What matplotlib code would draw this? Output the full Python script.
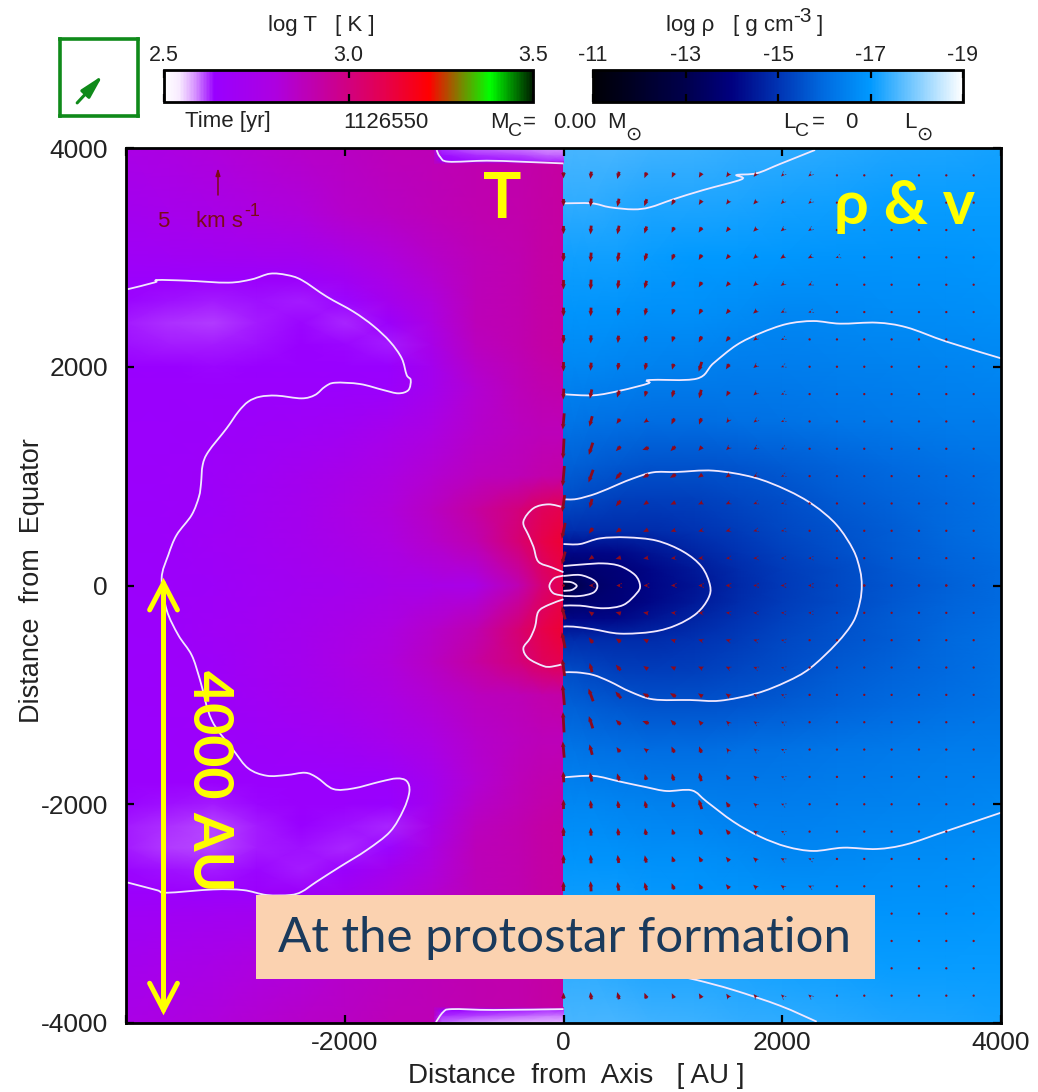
import numpy as np
import matplotlib
matplotlib.use('Agg')
import matplotlib.pyplot as plt
from matplotlib.colors import LinearSegmentedColormap
from matplotlib.patches import Rectangle, PathPatch
from matplotlib.path import Path

plt.rcParams['font.family'] = ['Liberation Sans', 'DejaVu Sans']
plt.rcParams['axes.unicode_minus'] = False

W, H = 1038, 1092

# temperature map, left half (log T), rows top to bottom
t_x = [-4000, -3600, -3200, -2800, -2400, -2000, -1600, -1200, -800, -400, -200, 0]
t_y = [4000, 3400, 3000, 2800, 2600, 2400, 2200, 2000, 1800, 1400, 1000, 700, 400, 0,
       -400, -700, -1000, -1400, -1800, -2000, -2200, -2400, -2600, -2800, -3000, -3400, -4000]
log_t = [
    [2.77, 2.79, 2.81, 2.83, 2.85, 2.86, 2.88, 2.89, 2.90, 2.91, 2.92, 2.93],
    [2.72, 2.74, 2.76, 2.79, 2.81, 2.84, 2.86, 2.88, 2.90, 2.91, 2.92, 2.93],
    [2.68, 2.69, 2.70, 2.71, 2.72, 2.76, 2.81, 2.85, 2.88, 2.90, 2.92, 2.93],
    [2.65, 2.65, 2.65, 2.65, 2.66, 2.70, 2.77, 2.83, 2.88, 2.90, 2.92, 2.93],
    [2.635, 2.63, 2.628, 2.63, 2.625, 2.635, 2.73, 2.81, 2.88, 2.90, 2.92, 2.93],
    [2.628, 2.62, 2.615, 2.625, 2.635, 2.622, 2.66, 2.79, 2.88, 2.90, 2.92, 2.93],
    [2.632, 2.628, 2.625, 2.63, 2.64, 2.635, 2.625, 2.76, 2.87, 2.90, 2.92, 2.93],
    [2.64, 2.64, 2.635, 2.64, 2.64, 2.64, 2.64, 2.73, 2.85, 2.89, 2.91, 2.92],
    [2.645, 2.645, 2.645, 2.645, 2.645, 2.645, 2.65, 2.73, 2.83, 2.88, 2.90, 2.91],
    [2.65, 2.65, 2.66, 2.67, 2.68, 2.70, 2.74, 2.79, 2.84, 2.87, 2.88, 2.88],
    [2.65, 2.66, 2.67, 2.69, 2.72, 2.75, 2.79, 2.83, 2.87, 2.89, 2.91, 2.92],
    [2.65, 2.66, 2.67, 2.70, 2.73, 2.77, 2.81, 2.86, 2.93, 3.01, 3.07, 3.10],
    [2.65, 2.66, 2.68, 2.70, 2.73, 2.76, 2.80, 2.84, 2.90, 3.03, 3.10, 3.14],
    [2.65, 2.66, 2.67, 2.69, 2.71, 2.73, 2.75, 2.76, 2.77, 2.90, 3.02, 3.10],
    [2.65, 2.66, 2.68, 2.70, 2.73, 2.76, 2.80, 2.84, 2.90, 3.03, 3.10, 3.14],
    [2.65, 2.66, 2.67, 2.70, 2.73, 2.77, 2.81, 2.86, 2.93, 3.01, 3.07, 3.10],
    [2.65, 2.66, 2.67, 2.69, 2.72, 2.75, 2.79, 2.83, 2.87, 2.89, 2.91, 2.92],
    [2.65, 2.65, 2.66, 2.67, 2.68, 2.70, 2.74, 2.79, 2.84, 2.87, 2.88, 2.88],
    [2.645, 2.645, 2.645, 2.645, 2.645, 2.645, 2.65, 2.73, 2.83, 2.88, 2.90, 2.91],
    [2.635, 2.63, 2.628, 2.635, 2.645, 2.645, 2.64, 2.73, 2.85, 2.89, 2.91, 2.92],
    [2.628, 2.62, 2.612, 2.628, 2.64, 2.632, 2.622, 2.76, 2.87, 2.90, 2.92, 2.93],
    [2.628, 2.615, 2.612, 2.628, 2.632, 2.622, 2.635, 2.79, 2.88, 2.90, 2.92, 2.93],
    [2.635, 2.63, 2.628, 2.635, 2.625, 2.645, 2.72, 2.81, 2.88, 2.90, 2.92, 2.93],
    [2.65, 2.65, 2.645, 2.65, 2.66, 2.70, 2.77, 2.83, 2.88, 2.90, 2.92, 2.93],
    [2.68, 2.69, 2.70, 2.71, 2.72, 2.76, 2.81, 2.85, 2.88, 2.90, 2.92, 2.93],
    [2.72, 2.74, 2.76, 2.79, 2.81, 2.84, 2.86, 2.88, 2.90, 2.91, 2.92, 2.93],
    [2.77, 2.79, 2.81, 2.83, 2.85, 2.86, 2.88, 2.89, 2.90, 2.91, 2.92, 2.93],
]

# the thin pale bands at top and bottom of the axis
band_x = [-1180, -1110, -800, -400, -150, 0]
band_top_y = [3860, 3885, 3940, 4000]
band_top_t = [
    [2.86, 2.86, 2.88, 2.89, 2.90, 2.91],
    [2.86, 2.64, 2.63, 2.625, 2.62, 2.62],
    [2.84, 2.63, 2.62, 2.61, 2.60, 2.60],
    [2.82, 2.62, 2.60, 2.59, 2.585, 2.585],
]
band_bot_y = [-3860, -3885, -3940, -4000]
band_bot_t = [
    [2.86, 2.86, 2.88, 2.89, 2.90, 2.91],
    [2.86, 2.64, 2.63, 2.625, 2.62, 2.62],
    [2.84, 2.62, 2.61, 2.60, 2.59, 2.59],
    [2.82, 2.60, 2.58, 2.57, 2.57, 2.57],
]

# density map, right half (log rho), equator to top, mirrored below
rho_x = [0, 100, 250, 500, 800, 1200, 1600, 2000, 2500, 3000, 3500, 4000]
rho_y = [0, 150, 300, 500, 800, 1100, 1500, 2000, 2500, 3000, 3500, 4000]
log_rho = [
    [-12.0, -13.0, -13.5, -13.8, -14.1, -14.4, -14.8, -15.1, -15.4, -15.6, -15.8, -16.0],
    [-13.5, -13.6, -13.7, -13.85, -14.15, -14.5, -14.85, -15.15, -15.4, -15.65, -15.85, -16.0],
    [-14.1, -14.1, -14.1, -14.15, -14.4, -14.7, -15.0, -15.25, -15.5, -15.7, -15.9, -16.05],
    [-14.9, -14.9, -14.9, -14.85, -14.85, -15.0, -15.15, -15.35, -15.55, -15.75, -15.95, -16.1],
    [-15.5, -15.45, -15.35, -15.25, -15.2, -15.25, -15.35, -15.5, -15.7, -15.85, -16.0, -16.15],
    [-15.8, -15.8, -15.75, -15.65, -15.55, -15.55, -15.6, -15.7, -15.85, -16.0, -16.1, -16.2],
    [-16.2, -16.2, -16.15, -16.1, -16.05, -16.05, -16.1, -16.15, -16.25, -16.3, -16.35, -16.4],
    [-16.6, -16.6, -16.6, -16.55, -16.5, -16.45, -16.4, -16.4, -16.45, -16.5, -16.55, -16.6],
    [-16.9, -16.9, -16.9, -16.85, -16.8, -16.8, -16.7, -16.6, -16.65, -16.7, -16.75, -16.8],
    [-17.1, -17.1, -17.1, -17.1, -17.05, -17.0, -17.0, -16.95, -16.9, -16.9, -16.9, -16.95],
    [-17.35, -17.35, -17.35, -17.3, -17.25, -17.25, -17.2, -17.15, -17.1, -17.05, -17.05, -17.05],
    [-17.55, -17.55, -17.55, -17.55, -17.5, -17.45, -17.4, -17.35, -17.3, -17.25, -17.2, -17.15],
]

# velocity vectors, upper half; lower half is the mirror image
vec_x = [0, 250, 500, 750, 1000, 1250, 1500, 1750, 2000, 2250, 2500, 2750, 3000, 3250, 3500, 3750]
vec_y = [3750, 3500, 3250, 3000, 2750, 2500, 2250, 2000, 1750, 1500, 1250, 1000, 750, 500, 250, 0]
speed = [
    [.9, 1.1, 1.1, .9, .8, .8, .7, .6, .5, .5, .3, .25, .2, .2, .2, .2],
    [1.1, 1.2, 1.2, 1.1, .9, .8, .7, .7, .6, .5, .3, .25, .2, .2, .2, .2],
    [1.2, 1.3, 1.3, 1.1, .9, .9, .8, .7, .6, .5, .3, .25, .2, .2, .2, .2],
    [1.3, 1.4, 1.4, 1.2, 1.0, .9, .8, .7, .7, .6, .4, .25, .2, .2, .2, .2],
    [1.4, 1.5, 1.3, 1.2, 1.0, .9, .8, .7, .6, .5, .3, .25, .2, .2, .2, .2],
    [1.3, 1.3, 1.2, 1.1, .9, .9, .8, .7, .5, .4, .3, .25, .2, .2, .2, .2],
    [1.3, 1.2, 1.1, 1.0, .9, 1.0, .9, .6, .4, .3, .25, .25, .2, .2, .2, .2],
    [1.4, 1.2, 1.1, 1.1, .9, 1.5, .9, .6, .4, .3, .3, .25, .2, .2, .2, .2],
    [1.6, 1.4, 1.1, .9, 1.1, 1.3, .8, .6, .4, .3, .3, .3, .3, .3, .3, .3],
    [2.4, 1.6, .9, .7, 1.0, 1.0, .6, .5, .4, .3, .3, .3, .3, .3, .3, .3],
    [3.0, 1.9, 1.0, 1.0, 1.0, .8, .6, .5, .4, .3, .3, .3, .3, .3, .3, .3],
    [3.0, 2.0, 1.3, 1.0, 1.0, .8, .7, .5, .4, .3, .3, .3, .3, .3, .3, .3],
    [2.5, 1.4, 1.1, .8, .8, .7, .6, .5, .4, .3, .3, .3, .3, .3, .3, .3],
    [2.4, 1.0, .9, .8, .7, .6, .6, .5, .4, .3, .3, .3, .3, .3, .3, .3],
    [2.0, .8, .8, .7, .6, .6, .5, .5, .4, .4, .3, .3, .3, .3, .3, .3],
    [.3, .5, .5, .5, .5, .5, .5, .4, .4, .4, .3, .3, .3, .3, .3, .3],
]
# degrees away from straight down, toward the axis
angle = [
    [0, 8, 15, 22, 25, 30, 35, 40, 45, 50, 55, 55, 50, 45, 40, 30],
    [0, 6, 12, 20, 28, 32, 38, 42, 45, 50, 55, 55, 55, 50, 45, 40],
    [0, 5, 12, 18, 26, 32, 38, 45, 50, 55, 60, 65, 65, 60, 55, 50],
    [0, 4, 10, 18, 22, 30, 40, 48, 55, 62, 70, 75, 75, 70, 65, 60],
    [0, 3, 8, 15, 22, 30, 40, 48, 55, 65, 75, 80, 80, 75, 70, 65],
    [0, 3, 8, 12, 20, 28, 40, 50, 60, 70, 78, 82, 85, 85, 80, 75],
    [0, 3, 6, 10, 18, 26, 38, 52, 65, 75, 85, 88, 90, 90, 85, 85],
    [0, 5, 8, 12, 16, 18, 32, 50, 68, 80, 88, 90, 92, 92, 90, 90],
    [3, 12, 18, 15, 15, 14, 30, 48, 68, 80, 90, 92, 92, 92, 92, 92],
    [5, 15, 35, 55, 25, 20, 35, 50, 65, 80, 90, 92, 92, 92, 92, 92],
    [3, 18, 45, 70, 45, 40, 45, 55, 65, 78, 88, 92, 92, 92, 92, 92],
    [5, 20, 40, 60, 60, 55, 55, 60, 68, 78, 88, 92, 92, 92, 92, 92],
    [8, 15, 40, 55, 65, 65, 65, 68, 72, 80, 88, 92, 92, 92, 92, 92],
    [12, 35, 55, 65, 72, 75, 75, 75, 78, 85, 90, 92, 92, 92, 92, 92],
    [15, 55, 75, 82, 85, 85, 85, 87, 88, 90, 90, 90, 90, 90, 90, 90],
    [90, 90, 90, 90, 90, 90, 90, 90, 90, 90, 90, 90, 90, 90, 90, 90],
]

# temperature contours, (x, y) in AU
t_shell = [(-3988, 2708), (-3735, 2772), (-3714, 2793), (-3445, 2787), (-3064, 2769), (-2851, 2799),
           (-2683, 2851), (-2531, 2839), (-2394, 2793), (-2165, 2641), (-1921, 2504), (-1738, 2373),
           (-1586, 2229), (-1479, 2077), (-1434, 1925), (-1397, 1879), (-1418, 1787), (-1510, 1757),
           (-1647, 1787), (-1860, 1842), (-2089, 1854), (-2180, 1818), (-2272, 1742), (-2394, 1711),
           (-2622, 1736), (-2775, 1726), (-2882, 1681), (-2973, 1589), (-3080, 1437), (-3247, 1224),
           (-3299, 1102), (-3314, 934), (-3333, 812), (-3400, 644), (-3537, 462), (-3613, 279),
           (-3674, 65), (-3628, -224), (-3522, -453), (-3400, -636), (-3323, -864), (-3217, -1230),
           (-3019, -1504), (-2882, -1672), (-2714, -1739), (-2531, -1733), (-2363, -1712), (-2257, -1754),
           (-2104, -1861), (-1921, -1855), (-1678, -1794), (-1525, -1764), (-1434, -1788), (-1409, -1885),
           (-1464, -2053), (-1586, -2251), (-1799, -2419), (-2043, -2571), (-2257, -2708), (-2394, -2800),
           (-2500, -2830), (-2714, -2830), (-2927, -2785), (-3202, -2779), (-3628, -2809), (-3720, -2785),
           (-3988, -2715)]
t_lobe_up = [(0, 715), (-138, 742), (-275, 706), (-367, 584), (-321, 462), (-275, 355), (-230, 218),
             (-108, 166), (0, 121)]
t_lobe_down = [(0, -126), (-138, -178), (-230, -239), (-260, -376), (-306, -483), (-367, -574),
               (-321, -666), (-184, -736), (-108, -742), (0, -717)]
t_core = [(0, 90), (-86, 66), (-129, -4), (-92, -71), (0, -93)]
t_band_top = [(-1160, 3981), (-1129, 3920), (-1053, 3875), (-702, 3884), (-398, 3875), (0, 3859)]
t_band_bot = [(-1166, -3992), (-1100, -3900), (-1020, -3873), (-640, -3881), (0, -3873)]

# density contours
rho_top = [(0, 3494), (258, 3494), (425, 3458), (639, 3439), (791, 3458), (1004, 3531), (1279, 3616),
           (1629, 3714), (1583, 3753), (1766, 3769), (1980, 3854), (2300, 3982)]
rho_bottom = [(1000, -3560), (1218, -3607), (1553, -3698), (1980, -3842), (2315, -3988)]
rho_up = [(0, 1748), (273, 1739), (517, 1781), (776, 1848), (785, 1879), (1218, 1891), (1370, 2031),
          (1583, 2199), (1797, 2306), (2041, 2391), (2285, 2418), (2529, 2394), (2864, 2403), (3138, 2360),
          (3504, 2229), (4000, 2077)]
rho_down = [(0, -1754), (273, -1741), (517, -1793), (761, -1845), (943, -1879), (1172, -1873), (1309, -1976),
            (1553, -2159), (1797, -2296), (2041, -2388), (2285, -2427), (2559, -2397), (2864, -2409),
            (3138, -2366), (3504, -2244), (4000, -2077)]
rho_oval = [(0, 788), (120, 791), (303, 842), (501, 925), (639, 980), (821, 1035), (1035, 1038), (1370, 1050),
            (1736, 989), (2041, 873), (2285, 736), (2498, 553), (2650, 324), (2711, 141), (2727, 0),
            (2711, -147), (2650, -330), (2498, -528), (2254, -757), (2041, -879), (1766, -986), (1431, -1053),
            (1157, -1047), (821, -1041), (608, -970), (425, -879), (273, -818), (120, -794), (0, -794)]
rho_c4 = [(0, 379), (151, 379), (334, 431), (578, 440), (852, 410), (1096, 309), (1263, 172), (1340, 0),
          (1324, -117), (1218, -254), (1035, -361), (821, -422), (517, -440), (273, -400), (90, -376), (0, -376)]
rho_c5 = [(0, 178), (181, 193), (364, 202), (517, 178), (654, 96), (700, 0), (669, -71), (547, -178),
          (364, -208), (151, -184), (0, -184)]
rho_c6 = [(0, 87), (151, 96), (273, 51), (310, -4), (273, -65), (151, -96), (0, -96)]
rho_c7 = [(0, 35), (75, 29), (121, -4), (75, -41), (0, -49)]

t_contours = [t_shell, t_lobe_up, t_lobe_down, t_core, t_band_top, t_band_bot]
rho_contours = [rho_top, rho_bottom, rho_up, rho_down, rho_oval, rho_c4, rho_c5, rho_c6, rho_c7]

# little direction arrow in the green box
inset_tail = (0.22, 0.17)
inset_tip = (0.55, 0.53)

t_ticks = [2.5, 3.0, 3.5]
rho_ticks = [-19, -17, -15, -13, -11]
axis_ticks = [-4000, -2000, 0, 2000, 4000]


def fx(x):
    return x / W


def fy(y):
    return 1 - y / H


def pix_axes(x0, y0, x1, y1):
    return fig.add_axes([fx(x0), fy(y1), (x1 - x0) / W, (y1 - y0) / H])


def ftext(x, y, s, **kw):
    kw.setdefault('fontsize', 16)
    kw.setdefault('ha', 'left')
    kw.setdefault('va', 'center')
    kw.setdefault('color', '#222222')
    fig.text(fx(x), fy(y), s, **kw)


def smooth_path(pts):
    # catmull-rom through the read points, as bezier segments
    p = np.array(pts, dtype=float)
    q = np.vstack([p[0], p, p[-1]])
    verts = [p[0]]
    codes = [Path.MOVETO]
    for i in range(1, len(q) - 2):
        verts += [q[i] + (q[i + 1] - q[i - 1]) / 6, q[i + 1] - (q[i + 2] - q[i]) / 6, q[i + 1]]
        codes += [Path.CURVE4] * 3
    return Path(verts, codes)


cmap_t = LinearSegmentedColormap.from_list('temp', [
    (0.00, (1, 1, 1)), (0.04, (0.97, 0.92, 1)), (0.08, (0.85, 0.6, 1)), (0.135, (0.60, 0, 1)), (0.30, (0.68, 0, 0.88)),
    (0.50, (0.82, 0, 0.50)), (0.60, (0.90, 0, 0.30)), (0.72, (1, 0, 0)), (0.885, (0, 1, 0)), (1.0, (0, 0.12, 0))])
cmap_rho = LinearSegmentedColormap.from_list('dens', [
    (0.00, (1, 1, 1)), (0.25, (0, 0.6, 1)), (0.375, (0, 0.42, 0.88)), (0.50, (0, 0.2, 0.7)),
    (0.625, (0, 0, 0.5)), (0.75, (0, 0, 0.3)), (1.0, (0, 0, 0.02))])

fig = plt.figure(figsize=(W / 100, H / 100), dpi=100)
ax = pix_axes(126, 148, 1001, 1023)

ax.pcolormesh(t_x, t_y, log_t, cmap=cmap_t, vmin=2.5, vmax=3.5, shading='gouraud', zorder=1)
ax.pcolormesh(band_x, band_top_y, band_top_t, cmap=cmap_t, vmin=2.5, vmax=3.5, shading='gouraud', zorder=1.1)
ax.pcolormesh(band_x, band_bot_y, band_bot_t, cmap=cmap_t, vmin=2.5, vmax=3.5, shading='gouraud', zorder=1.1)

rho_grid = np.array(log_rho)
rho_all = np.vstack([rho_grid[:0:-1], rho_grid])
rho_y_all = [-v for v in rho_y[:0:-1]] + rho_y
ax.pcolormesh(rho_x, rho_y_all, rho_all, cmap=cmap_rho, vmin=-19, vmax=-11, shading='gouraud', zorder=1)

for c in t_contours + rho_contours:
    ax.add_patch(PathPatch(smooth_path(c), fill=False, edgecolor='#f1e8ff', lw=1.3, zorder=3))

# vectors
vx, vy = np.meshgrid(vec_x, vec_y)
sp = np.array(speed)
an = np.radians(angle)
u = -sp * np.sin(an)
v = -sp * np.cos(an)
dark = '#8c0a1e'
for sign in (1, -1):
    ax.quiver(vx, sign * vy, u, sign * v, angles='xy', scale_units='xy', scale=1 / 62.0, pivot='mid', color=dark,
              width=0.0032, headwidth=1.7, headlength=2, headaxislength=1.8, minshaft=0.5, minlength=0.9, zorder=4)

ax.set_xlim(-4000, 4000)
ax.set_ylim(-4000, 4000)
ax.set_xticks(axis_ticks)
ax.set_yticks(axis_ticks)
ax.set_xticklabels(['', '-2000', '0', '2000', '4000'], fontsize=19, color='#222222')
ax.set_yticklabels(['-4000', '-2000', '0', '2000', '4000'], fontsize=19, color='#222222')
ax.tick_params(direction='in', length=5.5, width=1.6, top=True, right=True)
ax.tick_params(axis='x', pad=6)
ax.tick_params(axis='y', pad=13)
for s in ax.spines.values():
    s.set_linewidth(2)
    s.set_zorder(6)

ftext(576, 1076, 'Distance  from  Axis   [ AU ]', ha='center', fontsize=20)
ftext(32, 581, 'Distance  from  Equator', ha='center', rotation=90, fontsize=19.5)

# 5 km/s key
ax.annotate('', xy=(-3159, 3817), xytext=(-3159, 3570),
            arrowprops=dict(arrowstyle='-|>,head_width=0.13,head_length=0.42', color='#7d0a18', lw=1.1, shrinkA=0, shrinkB=0))
ftext(157, 222, '5', color='#7d0a18', fontsize=16)
ftext(196, 222, 'km s', color='#7d0a18', fontsize=16)
ftext(244, 212, '-1', color='#7d0a18', fontsize=13)

# colour bars
cax_t = pix_axes(164, 70, 533, 102)
sm_t = plt.cm.ScalarMappable(norm=plt.Normalize(2.5, 3.5), cmap=cmap_t)
cb_t = fig.colorbar(sm_t, cax=cax_t, orientation='horizontal')
cb_t.set_ticks(t_ticks)
cb_t.set_ticklabels(['2.5', '3.0', '3.5'], fontsize=15.5, color='#222222')
cax_t.xaxis.set_ticks_position('both')
cax_t.tick_params(axis='x', direction='in', length=5.5, width=1.6, labeltop=True, labelbottom=False, pad=3)

cax_r = pix_axes(593, 70, 963, 102)
sm_r = plt.cm.ScalarMappable(norm=plt.Normalize(-19, -11), cmap=cmap_rho)
cb_r = fig.colorbar(sm_r, cax=cax_r, orientation='horizontal')
cax_r.invert_xaxis()
cb_r.set_ticks(rho_ticks)
cb_r.set_ticklabels(['-19', '-17', '-15', '-13', '-11'], fontsize=15.5, color='#222222')
cax_r.xaxis.set_ticks_position('both')
cax_r.tick_params(axis='x', direction='in', length=5.5, width=1.6, labeltop=True, labelbottom=False, pad=3)
cb_t.outline.set_linewidth(2)
cb_r.outline.set_linewidth(2)

ftext(321, 26, 'log T   [ K ]', ha='center')
ftext(666, 26, 'log \u03c1')
ftext(733, 26, '[ g cm')
ftext(793, 17, '-3', fontsize=15)
ftext(817, 26, ']')
ftext(185, 122, 'Time [yr]')
ftext(343, 122, '1126550')
ftext(490, 122, 'M')
ftext(508, 132, 'C', fontsize=14)
ftext(523, 122, '=')
ftext(553, 122, '0.00')
ftext(607, 122, 'M')
ftext(625, 134, '\u2299', fontsize=14, family='DejaVu Sans')
ftext(783, 122, 'L')
ftext(795, 132, 'C', fontsize=14)
ftext(812, 122, '=')
ftext(845, 122, '0')
ftext(904, 122, 'L')
ftext(916, 134, '\u2299', fontsize=14, family='DejaVu Sans')

# green box
box = pix_axes(60, 39, 138, 116)
box.set_xlim(0, 1)
box.set_ylim(0, 1)
box.set_xticks([])
box.set_yticks([])
for s in box.spines.values():
    s.set_linewidth(2.6)
    s.set_color('#0f8a1a')
box.annotate('', xy=inset_tip, xytext=inset_tail,
             arrowprops=dict(arrowstyle='-|>,head_width=0.35,head_length=1.4', color='#0f8a1a', lw=2.2, shrinkA=0, shrinkB=0))

# slide annotations on top
ax.annotate('', xy=(-3657, 70), xytext=(-3657, -3930), zorder=7,
            arrowprops=dict(arrowstyle='<->,head_width=0.25,head_length=0.48', color='#ffff00', lw=3.6,
                            shrinkA=0, shrinkB=0, mutation_scale=40, joinstyle='miter'))
ftext(502, 200, 'T', color='#ffff00', fontsize=46, family=['Lato', 'DejaVu Sans'], fontweight='bold', ha='center', zorder=8)
ftext(905, 206, '\u03c1 & v', color='#ffff00', fontsize=44, family=['Lato', 'DejaVu Sans'], fontweight='bold', ha='center', zorder=8)
ftext(209, 781, '4000 AU', color='#ffff00', fontsize=40, family=['Lato', 'DejaVu Sans'], fontweight='bold', ha='center',
      rotation=-90, zorder=8)

fig.add_artist(Rectangle((fx(256), fy(979)), 619 / W, 84 / H, transform=fig.transFigure, facecolor='#fbd2b0',
                         edgecolor='none', zorder=9))
ftext(565, 938, 'At the protostar formation', color='#1a3a5c', fontsize=35.5, family=['Lato', 'DejaVu Sans'], ha='center',
      zorder=10)

fig.savefig('out.png', dpi=100)
